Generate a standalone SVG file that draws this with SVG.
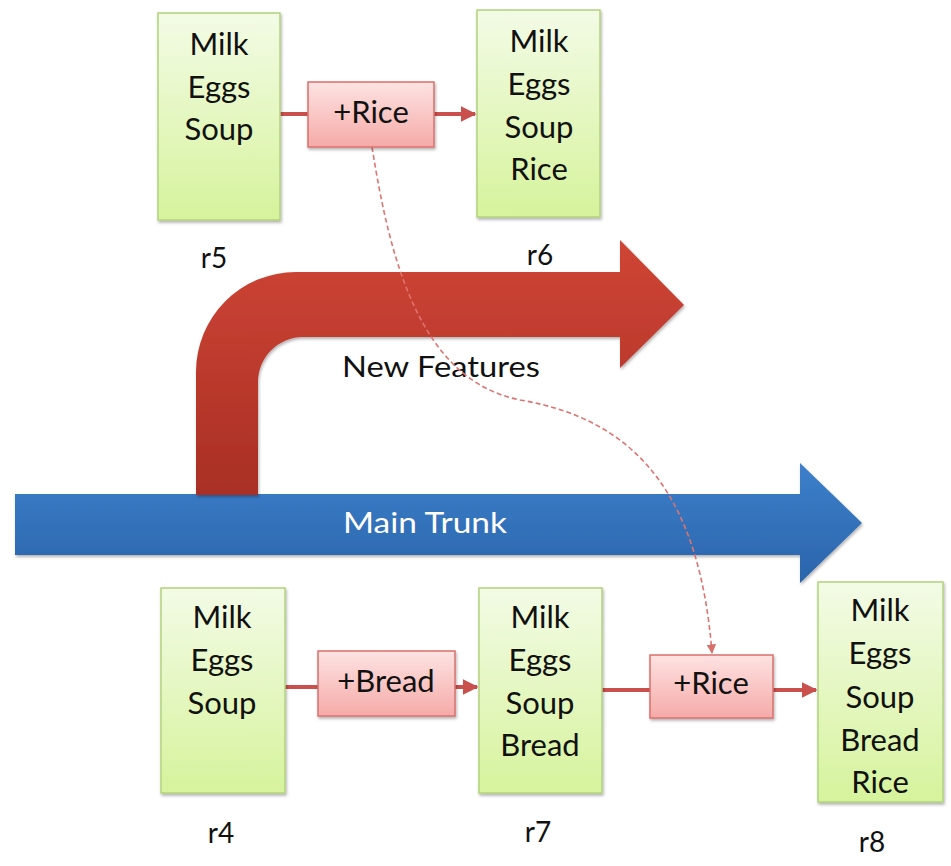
<svg xmlns="http://www.w3.org/2000/svg" width="951" height="866" viewBox="0 0 951 866">
<defs>
<linearGradient id="gGreen" x1="0" y1="0" x2="0" y2="1"><stop offset="0" stop-color="#f3fbe6"/><stop offset="1" stop-color="#d6f39c"/></linearGradient>
<linearGradient id="gPink" x1="0" y1="0" x2="0" y2="1"><stop offset="0" stop-color="#fde3e2"/><stop offset="1" stop-color="#f5aaa8"/></linearGradient>
<linearGradient id="gRed" x1="0" y1="240" x2="0" y2="495" gradientUnits="userSpaceOnUse"><stop offset="0" stop-color="#cf4535"/><stop offset="1" stop-color="#a92f25"/></linearGradient>
<linearGradient id="gBlue" x1="0" y1="463" x2="0" y2="583" gradientUnits="userSpaceOnUse"><stop offset="0" stop-color="#3d80cb"/><stop offset="1" stop-color="#2a64ab"/></linearGradient>
<filter id="sh" x="-10%" y="-10%" width="130%" height="130%"><feDropShadow dx="1" dy="2" stdDeviation="1.5" flood-color="#000" flood-opacity="0.3"/></filter>
<marker id="arr" viewBox="0 0 10 10" refX="9" refY="5" markerWidth="4" markerHeight="4" orient="auto"><path d="M0,0 L10,5 L0,10 Z" fill="#c9504c"/></marker>
<marker id="arrS" viewBox="0 0 10 10" refX="9" refY="5" markerWidth="6" markerHeight="6" orient="auto"><path d="M0,0 L10,5 L0,10 Z" fill="#d8706c"/></marker>
<style>
.box{fill:url(#gGreen);stroke:#b2d27e;stroke-width:1.5;filter:url(#sh)}
.chg{fill:url(#gPink);stroke:#d9706c;stroke-width:1.5;filter:url(#sh)}
.t{font-family:Lato,"Open Sans","Liberation Sans",sans-serif;font-size:31px;fill:#111111;text-anchor:middle}
.lbl{font-family:Lato,"Open Sans","Liberation Sans",sans-serif;font-size:28px;fill:#111111;text-anchor:middle}
.ln{stroke:#c9504c;stroke-width:4;fill:none}
.dash{stroke:#de7470;stroke-width:1.6;fill:none;stroke-dasharray:5 3}
</style>
</defs>
<rect width="951" height="866" fill="#ffffff"/>

<g id="mainTrunk">
<path d="M15,494 L800,494 L800,463 L862,523 L800,583 L800,555 L15,555 Z" fill="url(#gBlue)" filter="url(#sh)"/>
<text x="425" y="533" class="lbl" style="fill:#ffffff" textLength="164" lengthAdjust="spacingAndGlyphs">Main Trunk</text>
</g>

<g id="newFeatures">
<path d="M196,495 L196,372 A100,100 0 0 1 296,272 L620,272 L620,240 L684,305 L620,368 L620,337 L303,337 A45,45 0 0 0 258,382 L258,495 Z" fill="url(#gRed)" filter="url(#sh)"/>
<text x="441" y="377" class="lbl" textLength="198" lengthAdjust="spacingAndGlyphs">New Features</text>
</g>

<g id="connectors">
<line class="ln" x1="280" y1="114" x2="308" y2="114"/>
<line class="ln" x1="434" y1="114" x2="475" y2="114" marker-end="url(#arr)"/>
<line class="ln" x1="285" y1="687" x2="318" y2="687"/>
<line class="ln" x1="455" y1="687" x2="477" y2="687" marker-end="url(#arr)"/>
<line class="ln" x1="602" y1="690" x2="650" y2="690"/>
<line class="ln" x1="773" y1="690" x2="816" y2="690" marker-end="url(#arr)"/>
<path class="dash" d="M372,147 C390,260 420,380 520,400 C640,420 700,500 712,653" marker-end="url(#arrS)"/>
</g>

<g id="r5">
<rect class="box" x="158" y="13" width="122" height="207"/>
<text class="t" x="219" y="55">Milk</text>
<text class="t" x="219" y="98">Eggs</text>
<text class="t" x="219" y="140">Soup</text>
<text class="lbl" x="214" y="268">r5</text>
</g>

<g id="chg1">
<rect class="chg" x="308" y="82" width="126" height="65"/>
<text class="t" x="371" y="123">+Rice</text>
</g>

<g id="r6">
<rect class="box" x="477" y="10" width="123" height="207"/>
<text class="t" x="539" y="52">Milk</text>
<text class="t" x="539" y="95">Eggs</text>
<text class="t" x="539" y="138">Soup</text>
<text class="t" x="539" y="180">Rice</text>
<text class="lbl" x="540" y="265">r6</text>
</g>

<g id="r4">
<rect class="box" x="161" y="588" width="124" height="205"/>
<text class="t" x="222" y="628">Milk</text>
<text class="t" x="222" y="671">Eggs</text>
<text class="t" x="222" y="714">Soup</text>
<text class="lbl" x="221" y="843">r4</text>
</g>

<g id="chg2">
<rect class="chg" x="318" y="651" width="137" height="65"/>
<text class="t" x="386" y="692">+Bread</text>
</g>

<g id="r7">
<rect class="box" x="479" y="588" width="123" height="205"/>
<text class="t" x="540" y="628">Milk</text>
<text class="t" x="540" y="671">Eggs</text>
<text class="t" x="540" y="714">Soup</text>
<text class="t" x="540" y="756">Bread</text>
<text class="lbl" x="538" y="842">r7</text>
</g>

<g id="chg3">
<rect class="chg" x="650" y="655" width="123" height="63"/>
<text class="t" x="711" y="694">+Rice</text>
</g>

<g id="r8">
<rect class="box" x="818" y="582" width="125" height="220"/>
<text class="t" x="880" y="621">Milk</text>
<text class="t" x="880" y="664">Eggs</text>
<text class="t" x="880" y="708">Soup</text>
<text class="t" x="880" y="751">Bread</text>
<text class="t" x="880" y="793">Rice</text>
<text class="lbl" x="872" y="852">r8</text>
</g>
</svg>
